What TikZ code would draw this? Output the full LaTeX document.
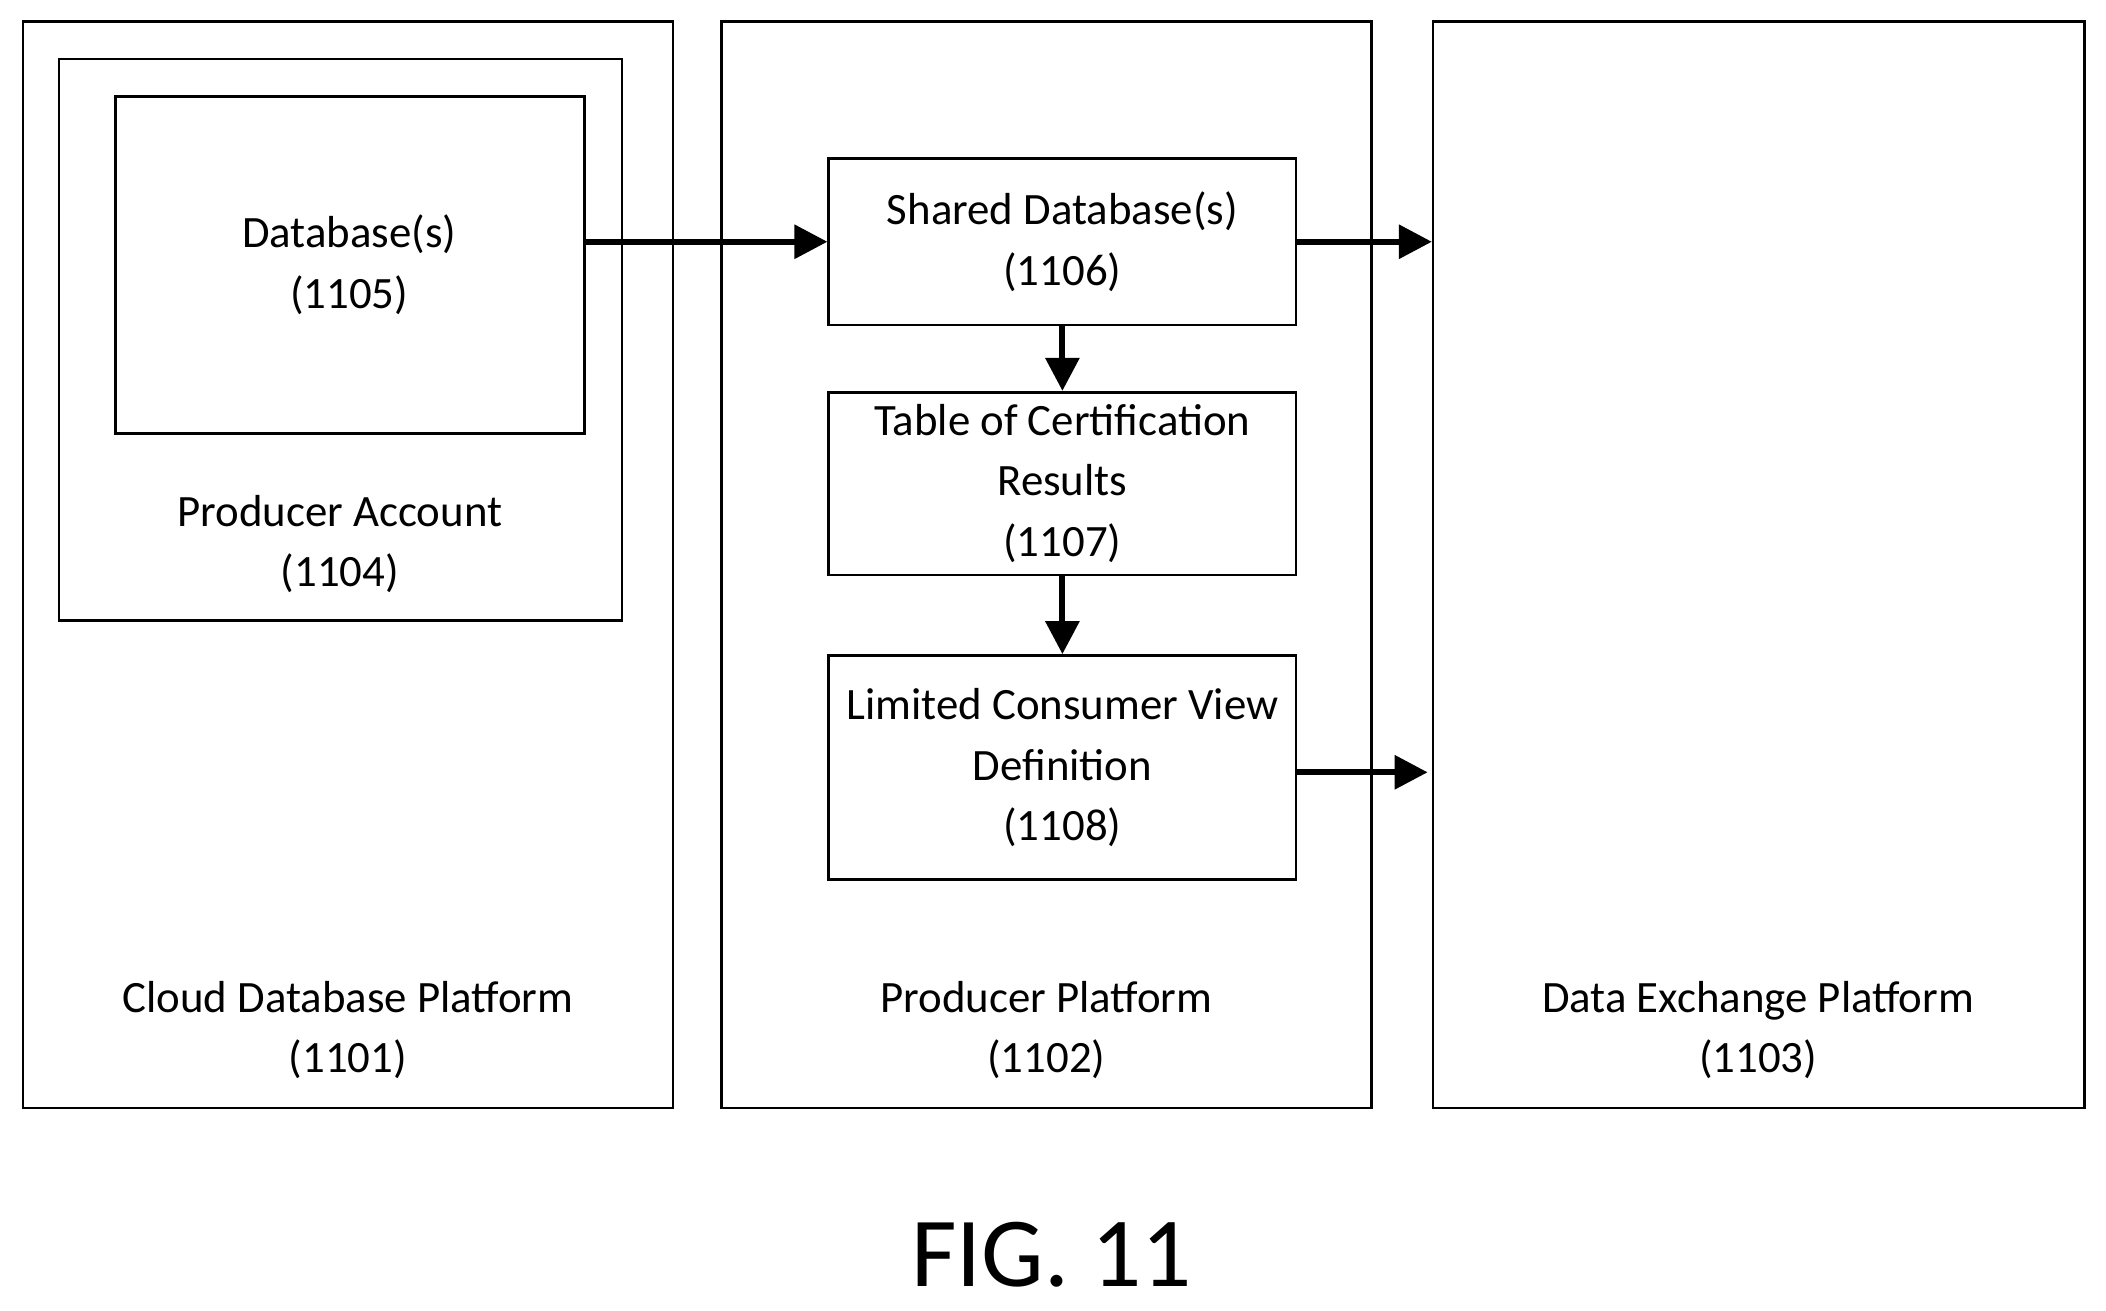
\documentclass[tikz,border=0pt]{standalone}
\usepackage{fontspec}
\setmainfont{Carlito}
\usetikzlibrary{positioning}
\usetikzlibrary{arrows.meta}
\tikzset{
  box/.style={draw, line width=1.1pt, rectangle, inner sep=0pt},
  lbl/.style={align=center, font=\fontsize{19}{25.6}\selectfont},
  arr/.style={line width=2.6pt, -{Triangle[length=14pt,width=14pt]}}
}
\begin{document}
\begin{tikzpicture}[x=0.02cm, y=-0.02cm]
\useasboundingbox (0,0) rectangle (1568,976);
% platforms
\node[box, minimum width=9.68cm, minimum height=16.18cm] (cloud) at (259,420.5) {};
\node[box, minimum width=9.68cm, minimum height=16.18cm] (prod) at (779,420.5) {};
\node[box, minimum width=9.70cm, minimum height=16.18cm] (dx) at (1309.5,420.5) {};
\node[lbl] (cloudl) at (259,767) {Cloud Database Platform\\(1101)};
\node[lbl] (prodl) at (779,767) {Producer Platform\\(1102)};
\node[lbl] (dxl) at (1309,767) {Data Exchange Platform\\(1103)};
% producer account
\node[box, minimum width=8.38cm, minimum height=8.36cm] (acct) at (253.5,253) {};
\node[lbl] (acctl) at (253,405) {Producer Account\\(1104)};
\node[box, minimum width=6.98cm, minimum height=5.02cm] (db) at (260.5,197.5) {};
\node[lbl] (dbl) at (260,197) {Database(s)\\(1105)};
% producer platform contents
\node[box, lbl, minimum width=6.96cm, minimum height=2.48cm] (shared) at (791,180) {Shared Database(s)\\(1106)};
\node[box, lbl, minimum width=6.96cm, minimum height=2.72cm] (cert) at (791,360) {Table of Certification\\Results\\(1107)};
\node[box, lbl, minimum width=6.96cm, minimum height=3.34cm] (view) at (791,571.5) {Limited Consumer View\\Definition\\(1108)};
% arrows
\draw[arr] (db.east |- shared.west) -- (shared.west);
\draw[arr] (shared.east) -- (shared.east -| dx.west);
\draw[arr] (shared) -- (cert);
\draw[arr] (cert) -- (view);
\draw[arr] (view.east |- 0,575) -- ++(97,0) coordinate (viewend);
\node[font=\fontsize{42}{48}\selectfont] (fig) at (783,934) {FIG. 11};
\end{tikzpicture}
\end{document}
